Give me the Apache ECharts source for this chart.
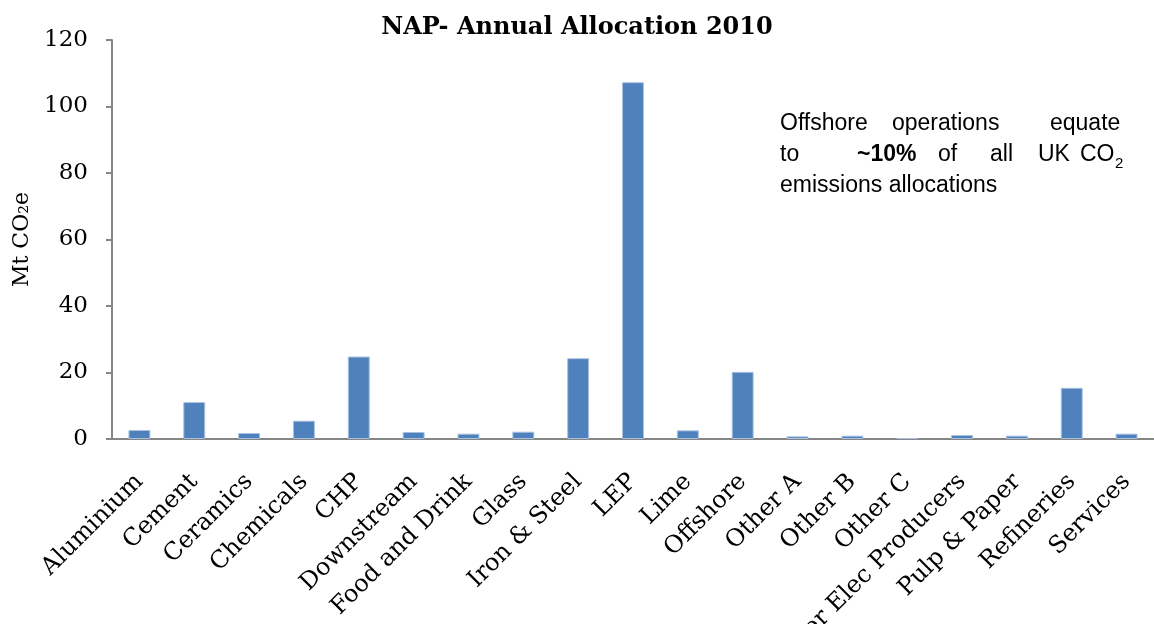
<!DOCTYPE html>
<html>
<head>
<meta charset="utf-8">
<script src="https://cdn.jsdelivr.net/npm/echarts@6/dist/echarts.min.js"></script>
<style>html,body{margin:0;padding:0;background:#fff}#c{width:1154px;height:624px}</style>
</head>
<body>
<div id="c"></div>
<script>
const categories = ["Aluminium","Cement","Ceramics","Chemicals","CHP","Downstream","Food and Drink","Glass","Iron & Steel","LEP","Lime","Offshore","Other A","Other B","Other C","Other Elec Producers","Pulp & Paper","Refineries","Services"];
const allocation = [2.7,11.1,1.8,5.5,24.8,2.1,1.6,2.2,24.3,107.3,2.6,20.2,0.8,1.0,0.3,1.2,1.0,15.4,1.6];
const yTicks = {min:0, max:120, interval:20};
const titleText = "NAP- Annual Allocation 2010";
const yName = "Mt CO\u2082e";

const chart = echarts.init(document.getElementById('c'), null, {renderer:'canvas'});
const serif = "DejaVu Serif";
const sans = "Liberation Sans";
const axisGray = '#868686';
const ann = {fontFamily:sans, fontSize:23, fill:'#000'};
function word(x,y,t,extra){return {type:'text', left:x, top:y, style:Object.assign({text:t}, ann, extra||{})};}
chart.setOption({
  animation:false,
  title:{text:titleText, left:'center', top:11, textStyle:{fontFamily:serif, fontWeight:'bold', fontSize:24, color:'#000'}},
  grid:{left:112, right:0, top:40, bottom:185, containLabel:false, outerBoundsMode:'none'},
  xAxis:{type:'category', data:categories,
    axisLine:{lineStyle:{color:axisGray, width:2}},
    axisTick:{length:6, lineStyle:{color:axisGray, width:2}},
    axisLabel:{rotate:45, interval:0, margin:39, fontFamily:serif, fontSize:24, color:'#000'}},
  yAxis:{type:'value', min:yTicks.min, max:yTicks.max, interval:yTicks.interval,
    name:yName, nameLocation:'middle', nameGap:76, nameRotate:90,
    nameTextStyle:{fontFamily:serif, fontSize:22, color:'#000'},
    splitLine:{show:false},
    axisLine:{show:true, lineStyle:{color:axisGray, width:2}},
    axisTick:{show:true, length:6, lineStyle:{color:axisGray, width:2}},
    axisLabel:{margin:24, fontFamily:serif, fontSize:23, color:'#000'}},
  series:[{type:'bar', data:allocation, barWidth:'40%',
    itemStyle:{color:'#4f81bd', borderColor:'#a9c1e0', borderWidth:1}}],
  graphic:[
    word(780,112,'Offshore'), word(892,112,'operations'), word(1050,112,'equate'),
    word(780,143,'to'), word(857,143,'~10%',{fontWeight:'bold'}), word(938,143,'of'), word(990,143,'all'), word(1038,143,'UK'), word(1080,143,'CO'),
    word(1115,156,'2',{fontSize:15}),
    word(780,174,'emissions allocations')
  ]
});
</script>
</body>
</html>
